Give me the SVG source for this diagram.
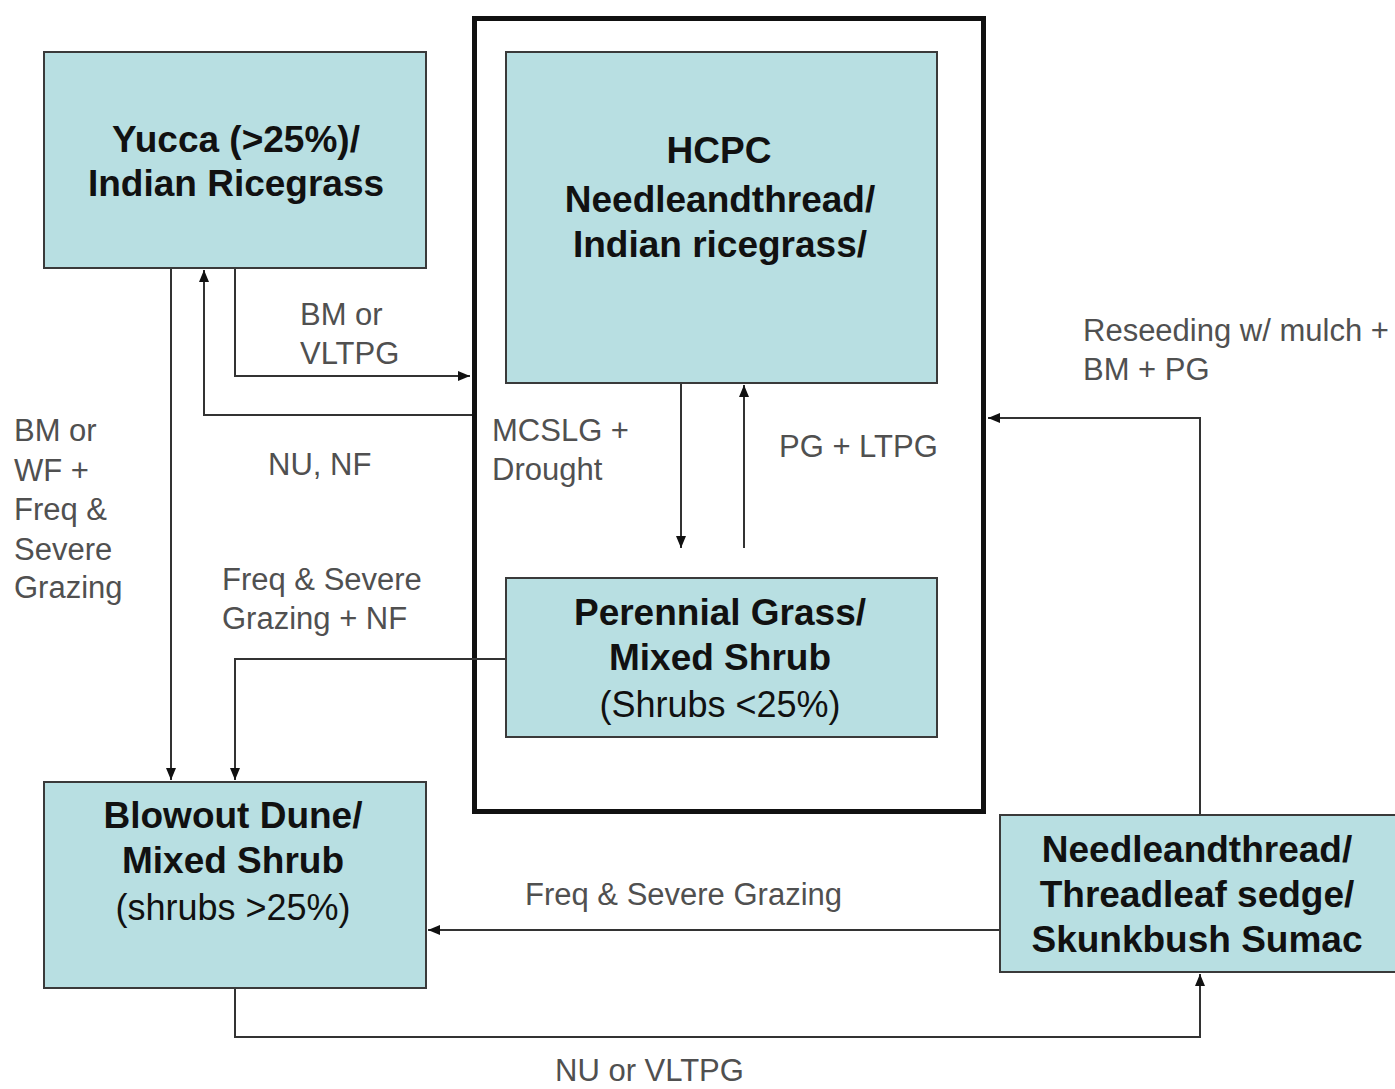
<svg xmlns="http://www.w3.org/2000/svg" width="1395" height="1089" viewBox="0 0 1395 1089">
<style>
.box{fill:#b8dfe2;stroke:#3a3a3a;stroke-width:2}
.nt{font-family:"Liberation Sans",Arial,sans-serif;font-size:37px;font-weight:bold;fill:#111;text-anchor:middle}
.nr{font-family:"Liberation Sans",Arial,sans-serif;font-size:36px;fill:#111;text-anchor:middle}
.lb{font-family:"Liberation Sans",Arial,sans-serif;font-size:31px;fill:#505050}
.c{fill:none;stroke:#333;stroke-width:2;marker-end:url(#ah)}
</style>
<defs>
<marker id="ah" viewBox="0 0 12 10" refX="12" refY="5" markerWidth="12" markerHeight="10" markerUnits="userSpaceOnUse" orient="auto">
<path d="M0,0 L12,5 L0,10 z" fill="#111"/>
</marker>
</defs>
<rect width="1395" height="1089" fill="#fff"/>
<g id="frame"><rect x="474.5" y="18.5" width="509" height="793" fill="none" stroke="#111" stroke-width="5"/></g>
<g id="connectors">
<path class="c" d="M171,268 V780"/>
<path class="c" d="M235,268 V376 H470"/>
<path class="c" d="M472,415 H204 V270"/>
<path class="c" d="M681,383 V548"/>
<path class="c" d="M744,548 V385"/>
<path class="c" d="M506,659 H235 V780"/>
<path class="c" d="M1000,930 H428"/>
<path class="c" d="M235,988 V1037 H1200 V974"/>
<path class="c" d="M1200,815 V418 H988"/>
</g>
<g id="yucca">
<rect class="box" x="44" y="52" width="382" height="216"/>
<text class="nt" x="236" y="152">Yucca (&gt;25%)/</text>
<text class="nt" x="236" y="196">Indian Ricegrass</text>
</g>
<g id="hcpc">
<rect class="box" x="506" y="52" width="431" height="331"/>
<text class="nt" x="719" y="163">HCPC</text>
<text class="nt" x="720" y="212">Needleandthread/</text>
<text class="nt" x="720" y="257">Indian ricegrass/</text>
</g>
<g id="perennial">
<rect class="box" x="506" y="578" width="431" height="159"/>
<text class="nt" x="720" y="625">Perennial Grass/</text>
<text class="nt" x="720" y="670">Mixed Shrub</text>
<text class="nr" x="720" y="717">(Shrubs &lt;25%)</text>
</g>
<g id="blowout">
<rect class="box" x="44" y="782" width="382" height="206"/>
<text class="nt" x="233" y="828">Blowout Dune/</text>
<text class="nt" x="233" y="873">Mixed Shrub</text>
<text class="nr" x="233" y="920">(shrubs &gt;25%)</text>
</g>
<g id="needle">
<rect class="box" x="1000" y="815" width="400" height="157"/>
<text class="nt" x="1197" y="862">Needleandthread/</text>
<text class="nt" x="1197" y="907">Threadleaf sedge/</text>
<text class="nt" x="1197" y="952">Skunkbush Sumac</text>
</g>
<g id="labels">
<text class="lb" x="300" y="325">BM or</text>
<text class="lb" x="300" y="364">VLTPG</text>
<text class="lb" x="268" y="475">NU, NF</text>
<text class="lb" x="492" y="441">MCSLG +</text>
<text class="lb" x="492" y="480">Drought</text>
<text class="lb" x="779" y="457">PG + LTPG</text>
<text class="lb" x="1083" y="341">Reseeding w/ mulch +</text>
<text class="lb" x="1083" y="380">BM + PG</text>
<text class="lb" x="14" y="441">BM or</text>
<text class="lb" x="14" y="481">WF +</text>
<text class="lb" x="14" y="520">Freq &amp;</text>
<text class="lb" x="14" y="560">Severe</text>
<text class="lb" x="14" y="598">Grazing</text>
<text class="lb" x="222" y="590">Freq &amp; Severe</text>
<text class="lb" x="222" y="629">Grazing + NF</text>
<text class="lb" x="525" y="905">Freq &amp; Severe Grazing</text>
<text class="lb" x="555" y="1081">NU or VLTPG</text>
</g>
</svg>
